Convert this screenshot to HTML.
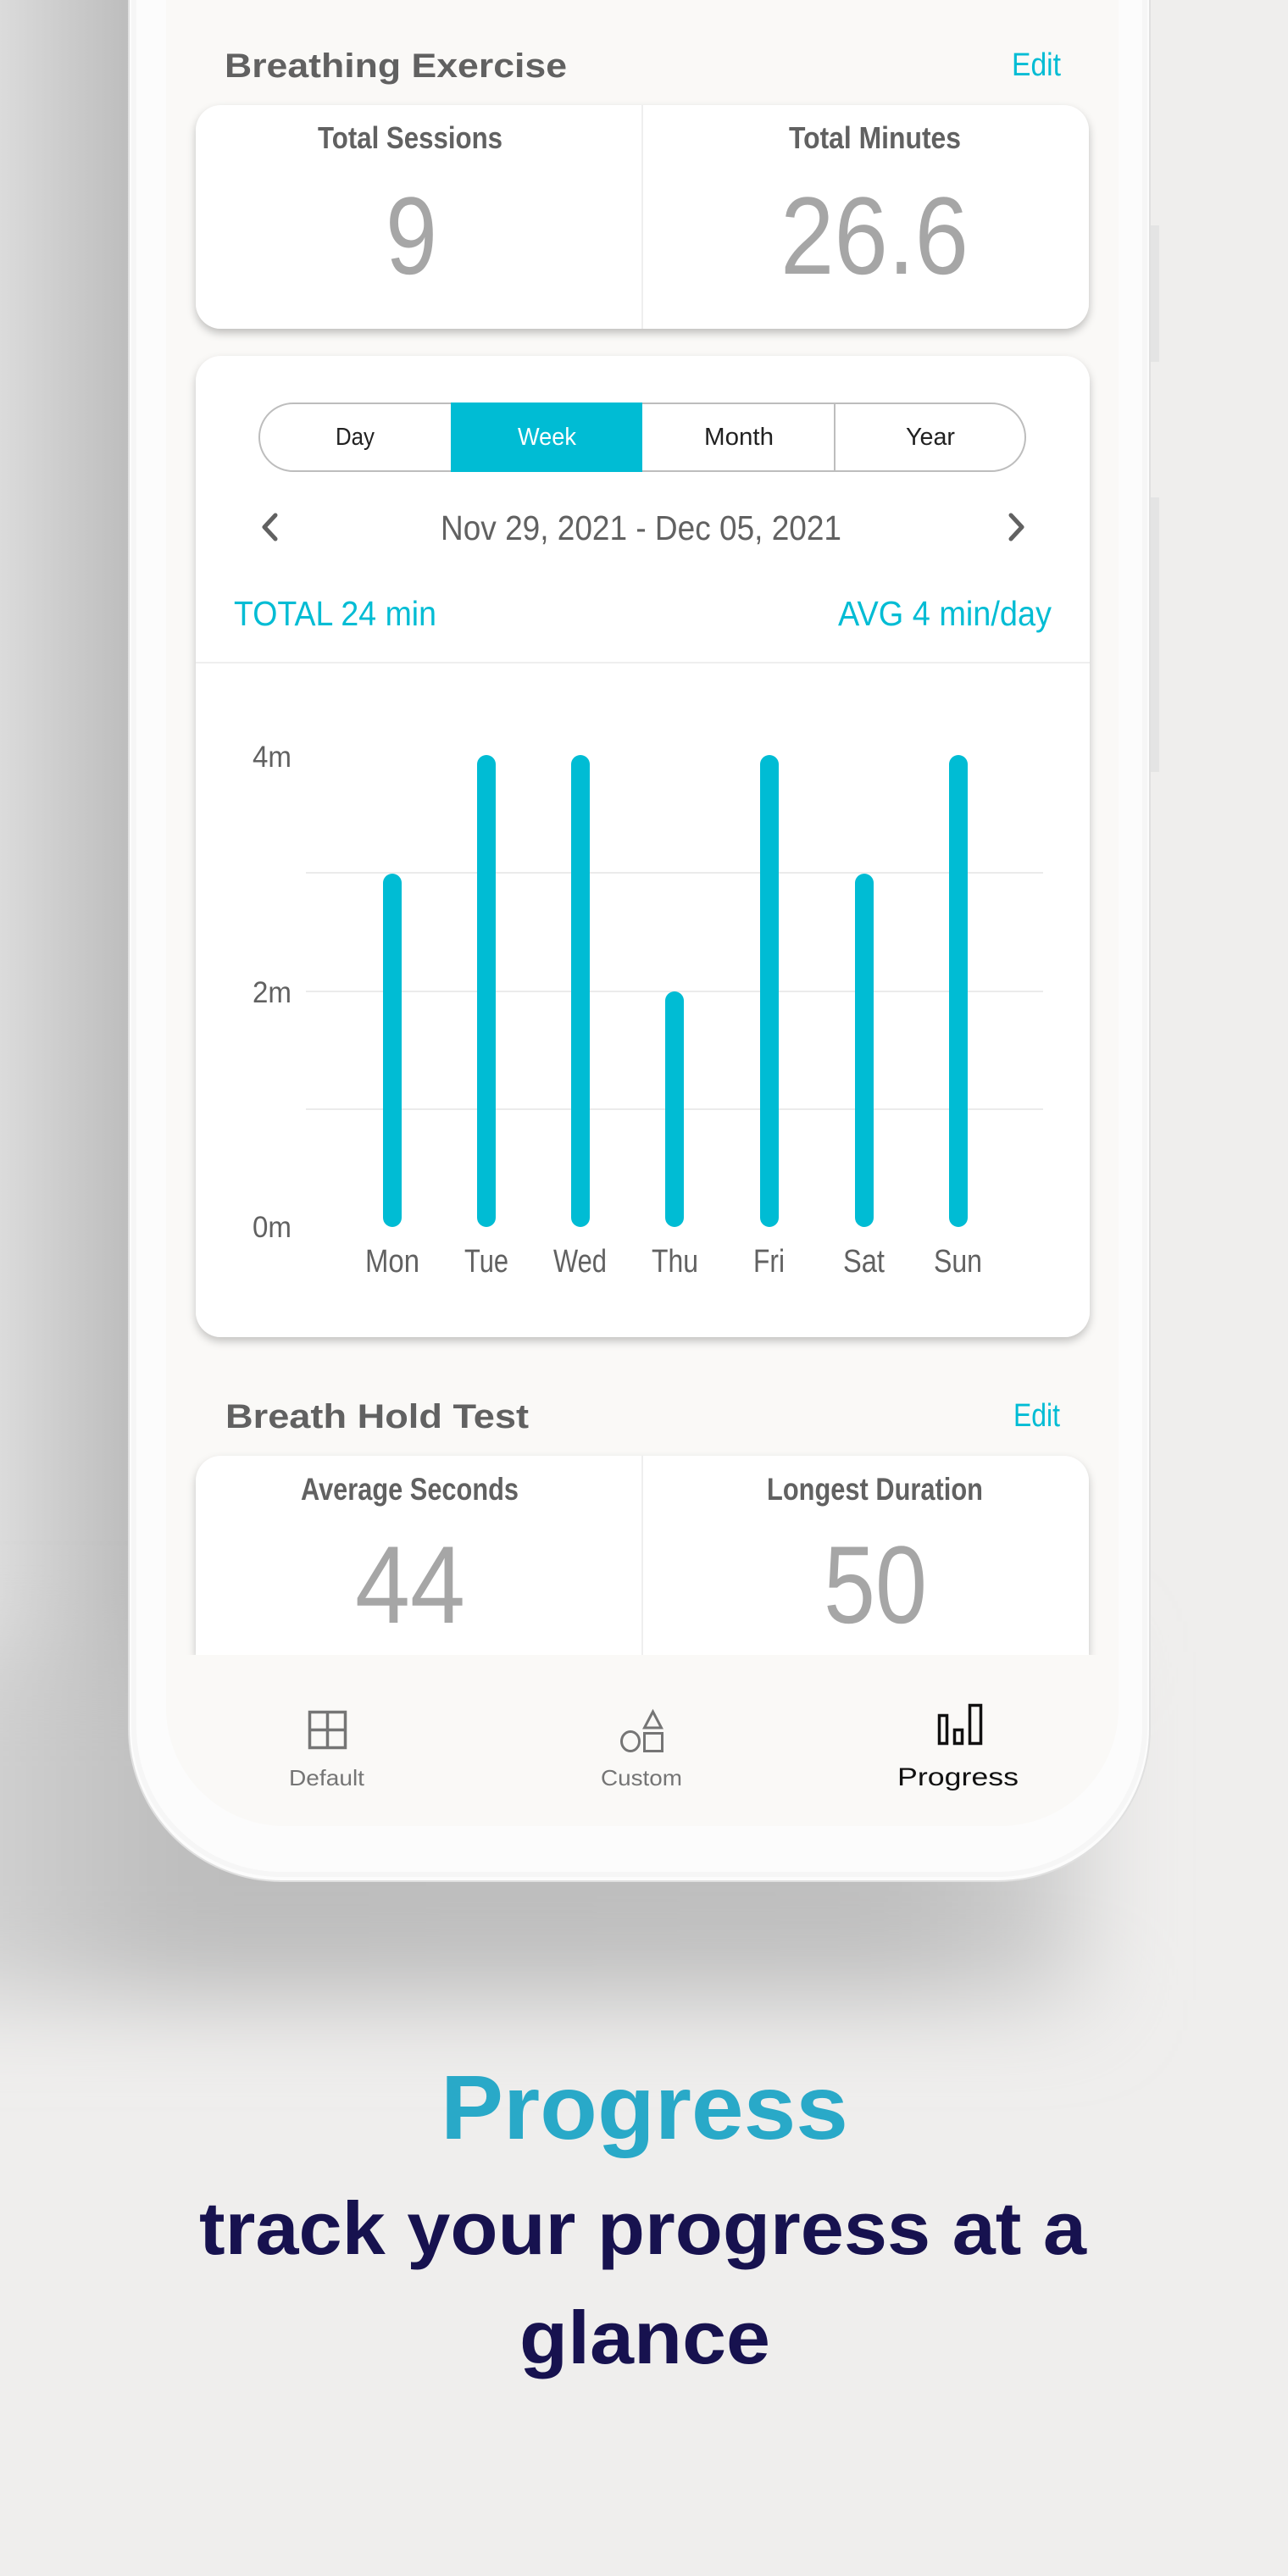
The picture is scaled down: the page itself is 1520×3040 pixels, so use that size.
<!DOCTYPE html>
<html>
<head>
<meta charset="utf-8">
<style>
  html, body { margin: 0; padding: 0; background: #efeeed; }
  body { width: 1520px; height: 3040px; overflow: hidden; }
  svg { display: block; }
  text { font-family: "Liberation Sans", Arial, sans-serif; }
</style>
</head>
<body>
<svg width="1520" height="3040" viewBox="0 0 1520 3040" xmlns="http://www.w3.org/2000/svg">
  <defs>
    <linearGradient id="leftg" gradientUnits="userSpaceOnUse" x1="0" y1="0" x2="152" y2="0">
      <stop offset="0" stop-color="#dbdbdb"/>
      <stop offset="1" stop-color="#bdbdbd"/>
    </linearGradient>
    <linearGradient id="botg" gradientUnits="userSpaceOnUse" x1="-150" y1="0" x2="1280" y2="0">
      <stop offset="0" stop-color="#dcdcdc"/>
      <stop offset="0.25" stop-color="#bdbdbd"/>
      <stop offset="0.85" stop-color="#bfbfbf"/>
      <stop offset="1" stop-color="#d2d2d2"/>
    </linearGradient>
    <filter id="bl" x="-50%" y="-50%" width="200%" height="200%">
      <feGaussianBlur stdDeviation="55"/>
    </filter>
    <filter id="cs" x="-10%" y="-20%" width="120%" height="150%">
      <feDropShadow dx="0" dy="5" stdDeviation="5" flood-color="#000" flood-opacity="0.24"/>
    </filter>
    <filter id="cs2" x="-10%" y="-10%" width="120%" height="120%">
      <feDropShadow dx="0" dy="5" stdDeviation="5" flood-color="#000" flood-opacity="0.22"/>
    </filter>
    <clipPath id="scr">
      <rect x="196" y="-400" width="1124" height="2555" rx="140" ry="140"/>
    </clipPath>
  </defs>

  <!-- background -->
  <rect x="0" y="0" width="1520" height="3040" fill="#efeeed"/>
  <rect x="0" y="0" width="175" height="2200" fill="url(#leftg)"/>
  <rect x="-150" y="1950" width="1430" height="410" fill="url(#botg)" filter="url(#bl)"/>

  <!-- side buttons -->
  <rect x="1355" y="266" width="13" height="161" fill="#e4e4e4"/>
  <rect x="1355" y="587" width="13" height="324" fill="#e4e4e4"/>

  <!-- phone body -->
  <rect x="152" y="-400" width="1205" height="2620" rx="180" ry="180" fill="#fcfcfc" stroke="#e0e0e0" stroke-width="2"/>
  <rect x="158" y="-400" width="1193" height="2612" rx="174" ry="174" fill="none" stroke="#f6f6f6" stroke-width="6"/>
  <!-- screen -->
  <rect x="196" y="-400" width="1124" height="2555" rx="140" ry="140" fill="#faf9f7"/>

  <!-- Breathing Exercise header -->
  <text x="265" y="91" font-size="40" font-weight="bold" fill="#616161" textLength="404" lengthAdjust="spacingAndGlyphs">Breathing Exercise</text>
  <text x="1194" y="89" font-size="38" fill="#00bcd4" textLength="58" lengthAdjust="spacingAndGlyphs">Edit</text>

  <!-- card 1 -->
  <rect x="231" y="124" width="1054" height="264" rx="30" ry="30" fill="#ffffff" filter="url(#cs)"/>
  <rect x="757" y="124" width="2" height="264" fill="#eeeeee"/>
  <text x="375" y="175" font-size="36" font-weight="bold" fill="#616161" textLength="218" lengthAdjust="spacingAndGlyphs">Total Sessions</text>
  <text x="931" y="175" font-size="36" font-weight="bold" fill="#616161" textLength="203" lengthAdjust="spacingAndGlyphs">Total Minutes</text>
  <text x="455" y="323" font-size="130" fill="#a6a6a6" textLength="61" lengthAdjust="spacingAndGlyphs">9</text>
  <text x="921" y="323" font-size="130" fill="#a6a6a6" textLength="222" lengthAdjust="spacingAndGlyphs">26.6</text>

  <!-- card 2 (chart) -->
  <rect x="231" y="420" width="1055" height="1158" rx="30" ry="30" fill="#ffffff" filter="url(#cs2)"/>

  <!-- segmented control -->
  <rect x="306" y="476" width="904" height="80" rx="40" ry="40" fill="#ffffff" stroke="#bdbdbd" stroke-width="2"/>
  <rect x="532" y="475" width="226" height="82" fill="#00bcd4"/>
  <rect x="984" y="476" width="2" height="80" fill="#bdbdbd"/>
  <text x="396" y="525" font-size="29" fill="#212121" textLength="46" lengthAdjust="spacingAndGlyphs">Day</text>
  <text x="611" y="525" font-size="29" fill="#ffffff" textLength="69" lengthAdjust="spacingAndGlyphs">Week</text>
  <text x="831" y="525" font-size="29" fill="#212121" textLength="82" lengthAdjust="spacingAndGlyphs">Month</text>
  <text x="1069" y="525" font-size="29" fill="#212121" textLength="58" lengthAdjust="spacingAndGlyphs">Year</text>

  <!-- date navigator -->
  <polyline points="325,608 312,622 325,636" fill="none" stroke="#616161" stroke-width="5" stroke-linecap="round" stroke-linejoin="round"/>
  <polyline points="1193,608 1206,622 1193,636" fill="none" stroke="#616161" stroke-width="5" stroke-linecap="round" stroke-linejoin="round"/>
  <text x="520" y="637" font-size="41" fill="#616161" textLength="473" lengthAdjust="spacingAndGlyphs">Nov 29, 2021 - Dec 05, 2021</text>

  <text x="276" y="738" font-size="41" fill="#00bcd4" textLength="239" lengthAdjust="spacingAndGlyphs">TOTAL 24 min</text>
  <text x="989" y="738" font-size="41" fill="#00bcd4" textLength="252" lengthAdjust="spacingAndGlyphs">AVG 4 min/day</text>

  <rect x="231" y="781" width="1055" height="2" fill="#efefef"/>

  <!-- grid -->
  <rect x="361" y="1029" width="870" height="2" fill="#ebebeb"/>
  <rect x="361" y="1169" width="870" height="2" fill="#ebebeb"/>
  <rect x="361" y="1308" width="870" height="2" fill="#ebebeb"/>

  <!-- y labels -->
  <text x="298" y="905" font-size="35" fill="#616161" textLength="46" lengthAdjust="spacingAndGlyphs">4m</text>
  <text x="298" y="1183" font-size="35" fill="#616161" textLength="46" lengthAdjust="spacingAndGlyphs">2m</text>
  <text x="298" y="1460" font-size="35" fill="#616161" textLength="46" lengthAdjust="spacingAndGlyphs">0m</text>

  <!-- bars -->
  <g fill="#00bcd4">
    <rect x="452" y="1031" width="22" height="417" rx="11" ry="11"/>
    <rect x="563" y="891" width="22" height="557" rx="11" ry="11"/>
    <rect x="674" y="891" width="22" height="557" rx="11" ry="11"/>
    <rect x="785" y="1170" width="22" height="278" rx="11" ry="11"/>
    <rect x="897" y="891" width="22" height="557" rx="11" ry="11"/>
    <rect x="1009" y="1031" width="22" height="417" rx="11" ry="11"/>
    <rect x="1120" y="891" width="22" height="557" rx="11" ry="11"/>
  </g>

  <!-- x labels -->
  <g font-size="38" fill="#616161">
    <text x="431" y="1501" textLength="64" lengthAdjust="spacingAndGlyphs">Mon</text>
    <text x="548" y="1501" textLength="52" lengthAdjust="spacingAndGlyphs">Tue</text>
    <text x="653" y="1501" textLength="63" lengthAdjust="spacingAndGlyphs">Wed</text>
    <text x="769" y="1501" textLength="55" lengthAdjust="spacingAndGlyphs">Thu</text>
    <text x="889" y="1501" textLength="37" lengthAdjust="spacingAndGlyphs">Fri</text>
    <text x="995" y="1501" textLength="49" lengthAdjust="spacingAndGlyphs">Sat</text>
    <text x="1102" y="1501" textLength="57" lengthAdjust="spacingAndGlyphs">Sun</text>
  </g>

  <!-- Breath Hold Test header -->
  <text x="266" y="1685" font-size="40" font-weight="bold" fill="#616161" textLength="358" lengthAdjust="spacingAndGlyphs">Breath Hold Test</text>
  <text x="1196" y="1683" font-size="38" fill="#00bcd4" textLength="55" lengthAdjust="spacingAndGlyphs">Edit</text>

  <!-- card 3 -->
  <path d="M231,1953 V1748 A30,30 0 0 1 261,1718 H1255 A30,30 0 0 1 1285,1748 V1953 Z" fill="#ffffff" filter="url(#cs2)"/>
  <rect x="757" y="1718" width="2" height="235" fill="#eeeeee"/>
  <text x="355" y="1770" font-size="37" font-weight="bold" fill="#616161" textLength="257" lengthAdjust="spacingAndGlyphs">Average Seconds</text>
  <text x="905" y="1770" font-size="37" font-weight="bold" fill="#616161" textLength="255" lengthAdjust="spacingAndGlyphs">Longest Duration</text>
  <text x="419" y="1915" font-size="130" fill="#a6a6a6" textLength="130" lengthAdjust="spacingAndGlyphs">44</text>
  <text x="972" y="1915" font-size="130" fill="#a6a6a6" textLength="122" lengthAdjust="spacingAndGlyphs">50</text>

  <!-- bottom nav -->
  <rect x="196" y="1953" width="1124" height="210" fill="#faf9f7" clip-path="url(#scr)"/>

  <!-- Default icon -->
  <g fill="none" stroke="#757575" stroke-width="3.5">
    <rect x="365.5" y="2020.5" width="42" height="42"/>
    <line x1="386.5" y1="2020.5" x2="386.5" y2="2062.5"/>
    <line x1="365.5" y1="2041.5" x2="407.5" y2="2041.5"/>
  </g>
  <text x="341" y="2107" font-size="26" fill="#757575" textLength="89" lengthAdjust="spacingAndGlyphs">Default</text>

  <!-- Custom icon -->
  <g fill="none" stroke="#757575" stroke-width="3">
    <polygon points="770.5,2020 760.5,2039 780.5,2039"/>
    <ellipse cx="744" cy="2055" rx="10.5" ry="11.5"/>
    <rect x="760.5" y="2045.5" width="21" height="21"/>
  </g>
  <text x="709" y="2107" font-size="26" fill="#757575" textLength="96" lengthAdjust="spacingAndGlyphs">Custom</text>

  <!-- Progress icon -->
  <g fill="none" stroke="#111111" stroke-width="3.5">
    <rect x="1108.5" y="2024.5" width="9" height="33"/>
    <rect x="1126.5" y="2041.5" width="9" height="16"/>
    <rect x="1144.5" y="2012.5" width="13" height="45"/>
  </g>
  <text x="1059" y="2107" font-size="30" fill="#111111" textLength="143" lengthAdjust="spacingAndGlyphs">Progress</text>

  <!-- marketing text -->
  <text x="520" y="2524" font-size="108" font-weight="bold" fill="#29a9c8" textLength="481" lengthAdjust="spacingAndGlyphs">Progress</text>
  <text x="235" y="2660" font-size="88" font-weight="bold" fill="#17124f" textLength="1047" lengthAdjust="spacingAndGlyphs">track your progress at a</text>
  <text x="613" y="2789" font-size="88" font-weight="bold" fill="#17124f" textLength="296" lengthAdjust="spacingAndGlyphs">glance</text>
</svg>
</body>
</html>
